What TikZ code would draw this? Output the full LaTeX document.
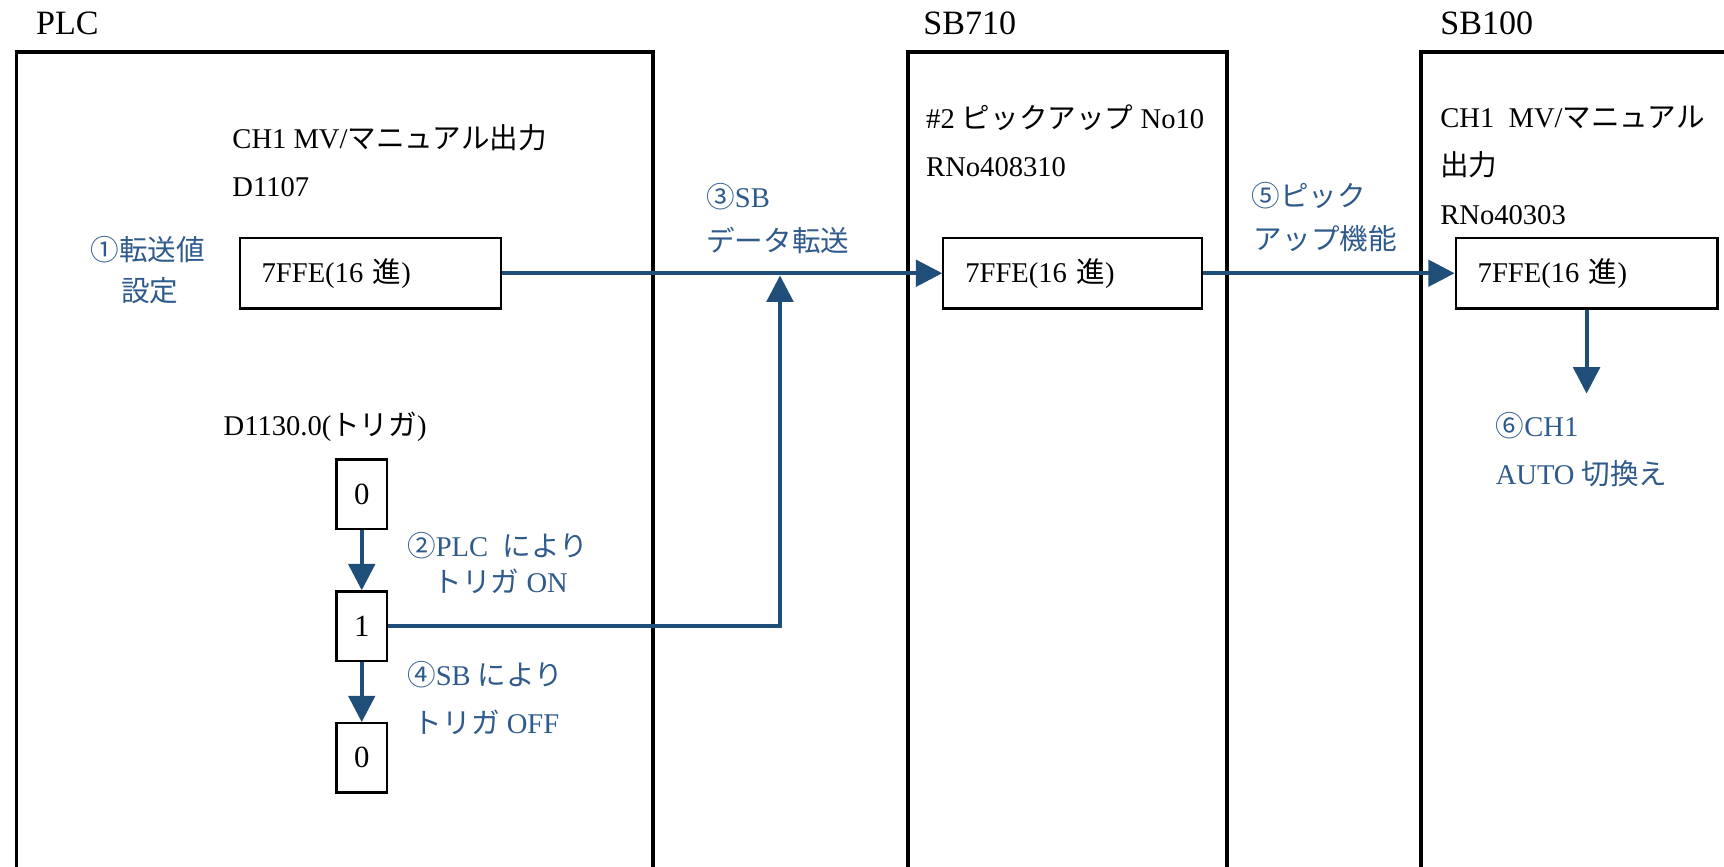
\documentclass[tikz,border=0pt]{standalone}
\usepackage{fontspec}
\setmainfont{Liberation Serif}
\newfontfamily\jp{Noto Sans CJK JP}
\usetikzlibrary{arrows.meta}
\definecolor{lineblue}{RGB}{31,78,121}
\definecolor{textblue}{RGB}{46,90,140}
\begin{document}
\begin{tikzpicture}[x=0.5pt,y=-0.5pt,
  every node/.style={font=\fontsize{13}{15}\selectfont, inner sep=0pt},
  lbl/.style={anchor=base west},
  unitlbl/.style={anchor=base west, font=\fontsize{15.5}{18}\selectfont},
  blbl/.style={anchor=base west, text=textblue},
  valbox/.style={draw, line width=1pt, minimum height=32pt, align=left, anchor=west, inner xsep=10pt, inner ysep=0pt},
  bitbox/.style={draw, line width=1pt, minimum width=23pt, minimum height=31.5pt, font=\fontsize{14}{16}\selectfont},
  unit/.style={line width=1.8pt, line join=miter},
  flow/.style={draw=lineblue, line width=1.8pt, -{Triangle[width=12pt,length=12pt]}},
]
\useasboundingbox (0,0) rectangle (1568,788);
\clip (0,0) rectangle (1568,788);
% unit frames
\draw[unit] (15,800) -- (15,47.5) -- (594,47.5) -- (594,800);
\draw[unit] (826,800) -- (826,47.5) -- (1116,47.5) -- (1116,800);
\draw[unit] (1292,800) -- (1292,47.5) -- (1600,47.5);
% unit labels
\node[unitlbl] (plcl) at (32.5,31.2) {PLC};
\node[unitlbl] (sb7l) at (839.5,31.2) {SB710};
\node[unitlbl] (sb1l) at (1309.6,31.2) {SB100};
% PLC texts
\node[lbl] (t1) at (211,135.5) {CH1 MV/{\jp マニュアル出力}};
\node[lbl] (t2) at (211,179) {D1107};
\node[valbox, text width=99pt] (plcv) at (217,248.5) {7FFE(16 {\jp 進})};
\node[blbl] (s1a) at (82,236.5) {\jp ①転送値};
\node[blbl] (s1b) at (110,274) {\jp 設定};
\node[lbl] (trg) at (203,396.5) {D1130.0({\jp トリガ})};
\node[bitbox] (b0) at (329,449.5) {0};
\node[bitbox] (b1) at (329,569.4) {1};
\node[bitbox] (b2) at (329,689.3) {0};
\node[blbl] (s2a) at (370,506) {{\jp ②}PLC\ \ {\jp により}};
\node[blbl] (s2b) at (394,539) {{\jp トリガ} ON};
\node[blbl] (s4a) at (370,623.6) {{\jp ④}SB {\jp により}};
\node[blbl] (s4b) at (376,667) {{\jp トリガ} OFF};
% transfer label
\node[blbl] (s3a) at (642,188.6) {{\jp ③}SB};
\node[blbl] (s3b) at (642,229) {\jp データ転送};
% SB710 texts
\node[lbl] (u1) at (842,116.7) {\#2 {\jp ピックアップ} No10};
\node[lbl] (u2) at (842,160.7) {RNo408310};
\node[valbox, text width=97.5pt] (sb7v) at (857,248.5) {7FFE(16 {\jp 進})};
\node[blbl] (s5a) at (1138,188) {\jp ⑤ピック};
\node[blbl] (s5b) at (1140,227) {\jp アップ機能};
% SB100 texts
\node[lbl] (v1) at (1309.6,116) {CH1\ \ MV/{\jp マニュアル}};
\node[lbl] (v2) at (1309.6,159.8) {\jp 出力};
\node[lbl] (v3) at (1309.6,204) {RNo40303};
\node[valbox, text width=99pt] (sb1v) at (1323,248.5) {7FFE(16 {\jp 進})};
\node[blbl] (s6a) at (1360,397) {{\jp ⑥}CH1};
\node[blbl] (s6b) at (1360,440.5) {AUTO {\jp 切換え}};
% connectors
\coordinate (c3) at (709.4,250.5);
\coordinate (c6) at (1442,358);
\draw[flow] (plcv.east) -- (sb7v.west);
\draw[flow] (sb7v.east) -- (sb1v.west);
\draw[flow] (sb1v.south) -- (sb1v.south |- c6);
\draw[flow] (b0.south) -- (b1.north);
\draw[flow] (b1.south) -- (b2.north);
\draw[flow] (b1.east) -| (c3);
\end{tikzpicture}
\end{document}
